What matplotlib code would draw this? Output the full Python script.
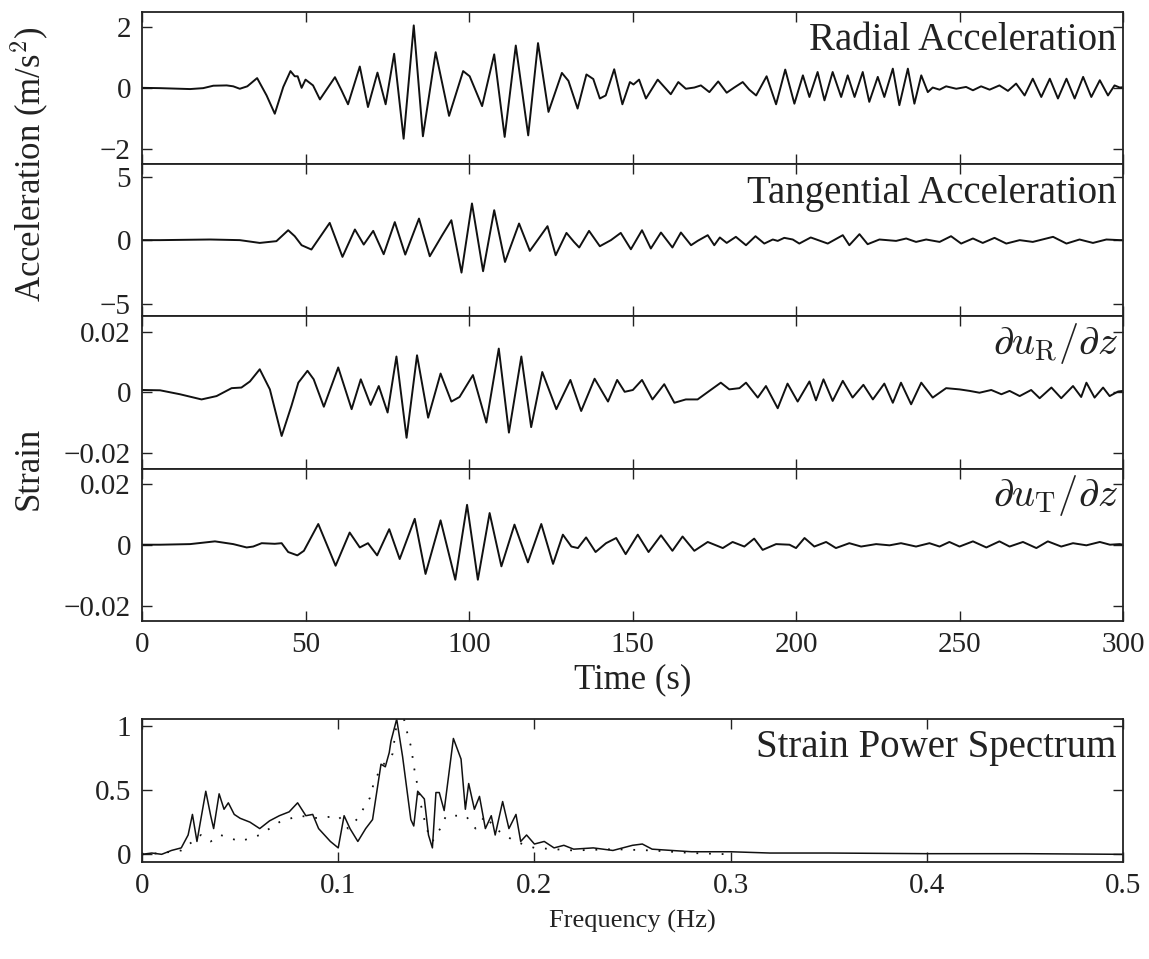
import numpy as np
import matplotlib
matplotlib.use("Agg")
import matplotlib.pyplot as plt

plt.rcParams['font.family'] = ['Liberation Serif', 'DejaVu Serif']
plt.rcParams['mathtext.fontset'] = 'cm'

# ---- data (time in s) ----
# radial acceleration (m/s^2)
t_ra = [0, 5.5, 14.7, 18.7, 21.8, 25.9, 27.9, 29.9, 32.2, 35.2, 38.1, 40.6, 43.2, 45.4, 46.7, 47.6,
        48.8, 50.0, 52.3, 54.4, 59.0, 61.0, 63.0, 66.6, 69.1, 72.0, 74.5, 77.1, 80.0, 83.1, 85.9,
        89.8, 93.9, 98.2, 100.2, 104.0, 107.7, 110.9, 114.3, 118.1, 121.1, 124.3, 128.4, 130.4,
        133.2, 135.9, 138.0, 140.0, 141.8, 144.4, 146.9, 149.2, 150.3, 152.0, 154.1, 157.7, 161.7,
        164.0, 166.3, 168.9, 170.9, 173.5, 176.2, 178.8, 181.1, 183.7, 185.7, 187.8, 191.0, 193.9,
        196.7, 199.5, 202.1, 204.1, 206.6, 208.7, 211.2, 213.8, 215.8, 217.9, 220.4, 222.4, 225.0,
        227.0, 229.6, 231.6, 234.2, 236.2, 238.3, 240.3, 241.8, 243.9, 245.9, 249.0, 252.0, 254.1,
        256.6, 259.2, 262.2, 264.8, 267.3, 269.9, 272.4, 275.0, 277.6, 280.1, 282.7, 285.2, 287.8,
        290.3, 292.9, 295.4, 297.4, 299.0, 300]
a_ra = [0.0, -0.01, -0.04, -0.01, 0.07, 0.08, 0.05, -0.03, 0.05, 0.32, -0.25, -0.85, 0.03, 0.55, 0.38, 0.38,
        0.0, 0.27, 0.08, -0.38, 0.35, -0.08, -0.54, 0.70, -0.63, 0.50, -0.54, 1.12, -1.67, 2.05, -1.59,
        1.17, -0.92, 0.55, 0.38, -0.60, 1.10, -1.61, 1.39, -1.56, 1.47, -0.79, 0.49, 0.23,
        -0.68, 0.44, 0.29, -0.35, -0.25, 0.61, -0.54, 0.19, 0.11, 0.27, -0.35, 0.27, -0.21,
        0.19, -0.03, 0.01, 0.08, -0.14, 0.21, -0.16, 0.01, 0.19, -0.06, -0.25, 0.38, -0.54,
        0.60, -0.52, 0.41, -0.30, 0.52, -0.41, 0.52, -0.30, 0.41, -0.30, 0.52, -0.46, 0.36,
        -0.30, 0.63, -0.57, 0.63, -0.52, 0.41, -0.14, 0.01, -0.06, 0.05, -0.03, 0.03, -0.08,
        0.05, -0.06, 0.08, -0.10, 0.14, -0.25, 0.30, -0.30, 0.30, -0.35, 0.30, -0.35, 0.36,
        -0.30, 0.25, -0.25, 0.08, 0.01, 0.02]

# tangential acceleration (m/s^2)
t_ta = [0, 5.5, 20.8, 29.9, 36.0, 41.1, 44.7, 46.7, 48.8, 51.8, 57.4, 61.3, 65.1, 67.8, 70.7, 73.9,
        77.3, 80.5, 84.7, 88.0, 91.8, 94.6, 97.7, 100.9, 104.3, 107.7, 111.0, 115.3, 118.6, 124.0,
        126.5, 129.8, 132.1, 133.7, 136.7, 140.0, 143.4, 146.4, 149.5, 152.9, 155.6, 158.7, 162.2,
        164.8, 167.9, 169.9, 173.0, 175.0, 176.7, 178.8, 181.6, 184.7, 187.6, 190.3, 192.9, 194.4,
        196.4, 199.0, 201.0, 204.5, 209.7, 214.3, 216.3, 219.4, 221.9, 225.5, 230.6, 233.7, 236.7,
        239.8, 243.9, 247.4, 250.5, 254.1, 257.1, 260.7, 264.3, 268.4, 272.4, 278.6, 282.7, 286.7,
        290.8, 294.9, 299.0, 300]
a_ta = [0.0, 0.0, 0.05, 0.0, -0.22, -0.08, 0.78, 0.31, -0.40, -0.74, 1.36, -1.32, 0.84, -0.35, 0.73, -1.11,
        1.42, -1.14, 1.70, -1.27, 0.39, 1.57, -2.56, 2.89, -2.45, 2.36, -1.72, 1.31, -0.85, 1.10,
        -1.19, 0.57, -0.14, -0.58, 0.73, -0.48, 0.0, 0.57, -0.72, 0.78, -0.66, 0.60, -0.58,
        0.60, -0.40, -0.06, 0.39, -0.40, 0.21, -0.22, 0.26, -0.40, 0.31, -0.27, 0.05, -0.06,
        0.18, 0.05, -0.27, 0.21, -0.27, 0.39, -0.40, 0.47, -0.32, 0.05, -0.06, 0.13, -0.14,
        0.05, -0.14, 0.31, -0.27, 0.13, -0.22, 0.18, -0.27, 0.0, -0.14, 0.26, -0.27, 0.05,
        -0.22, 0.05, 0.0, 0.0]

# radial strain du_R/dz (x 1e-3)
t_sr = [0, 5.5, 11.6, 18.2, 22.8, 27.4, 30.4, 33.0, 36.0, 39.1, 42.7, 45.7, 47.8, 50.6, 52.5, 55.6,
        60.0, 64.1, 66.9, 69.9, 72.4, 75.1, 77.8, 80.9, 84.1, 87.5, 91.3, 94.6, 97.1, 101.2, 105.3,
        109.1, 112.2, 116.0, 119.0, 122.4, 126.7, 131.0, 134.3, 138.4, 142.5, 145.3, 147.6, 150.1,
        152.9, 156.1, 159.7, 162.8, 166.3, 169.9, 173.5, 177.0, 179.6, 182.7, 184.7, 188.3, 190.8,
        194.4, 197.4, 200.5, 204.1, 206.1, 208.4, 211.2, 214.3, 217.3, 220.6, 223.5, 227.0, 229.6,
        232.1, 235.2, 238.3, 241.8, 245.9, 250.0, 253.1, 256.1, 259.7, 262.8, 265.3, 268.4, 271.9,
        274.5, 278.1, 281.1, 284.7, 287.2, 288.8, 291.3, 293.9, 295.9, 298.5, 300]
s_sr = [0.8, 0.7, -0.6, -2.3, -1.2, 1.4, 1.6, 3.6, 7.6, 1.0, -14.3, -4.4, 3.2, 7.1, 4.3, -4.7,
        8.2, -5.5, 4.3, -4.1, 2.1, -6.6, 11.8, -14.9, 12.2, -8.3, 6.2, -3.0, -1.5, 5.7, -9.9,
        14.4, -13.2, 11.8, -11.4, 6.7, -5.5, 4.1, -6.1, 4.5, -3.0, 4.1, 0.2, 0.8,
        4.1, -2.3, 2.7, -3.4, -2.3, -2.3, 0.5, 3.2, 1.0, 1.4, 3.2, -1.7, 2.1,
        -5.2, 2.9, -3.0, 3.6, -2.6, 4.3, -2.8, 3.8, -1.7, 2.5, -2.3, 2.9, -3.4,
        3.2, -3.9, 3.2, -1.7, 1.4, 1.0, 0.5, -0.1, 0.8, -0.6, 0.5, -1.2, 0.8,
        -1.9, 1.6, -1.9, 2.1, -1.5, 3.2, -1.7, 1.6, -1.2, 0.3, 0.5]

# transverse strain du_T/dz (x 1e-3)
t_st = [0, 5.5, 14.7, 22.3, 27.9, 32.0, 34.0, 36.6, 40.6, 42.7, 44.7, 47.5, 49.5, 53.9, 59.2, 63.5,
        66.6, 69.1, 71.9, 75.6, 78.8, 83.4, 86.7, 91.3, 95.8, 99.4, 102.7, 106.3, 109.9, 113.9,
        118.0, 122.1, 125.7, 128.7, 131.3, 133.3, 135.8, 138.7, 141.9, 145.0, 147.9, 151.6, 154.9,
        158.7, 162.2, 165.3, 168.9, 173.0, 177.6, 180.6, 184.2, 187.2, 189.8, 193.9, 198.0, 200.0,
        202.6, 205.6, 209.2, 212.2, 216.3, 219.9, 224.5, 228.6, 232.1, 236.7, 240.8, 243.9, 246.9,
        250.0, 254.1, 258.2, 262.2, 265.3, 269.4, 273.5, 277.0, 281.1, 284.7, 288.8, 292.9, 296.0,
        299.0, 300]
s_st = [0.0, 0.0, 0.2, 1.1, 0.2, -0.9, -0.6, 0.5, 0.3, 0.5, -2.4, -3.5, -2.0, 6.8, -6.9, 4.0,
        -0.9, 0.5, -3.5, 5.1, -4.7, 8.5, -9.6, 8.0, -11.5, 13.1, -11.5, 10.4, -7.1, 6.6,
        -5.8, 6.8, -6.3, 3.3, -0.6, -1.1, 2.4, -2.4, 0.5, 2.2, -3.1, 3.3, -2.4,
        3.1, -2.0, 2.7, -2.0, 0.9, -1.1, 0.9, -0.6, 2.0, -1.7, 0.2, 0.0, -1.1,
        2.2, -0.6, 0.9, -1.1, 0.5, -0.6, 0.2, -0.2, 0.5, -0.6, 0.5, -0.6, 0.9,
        -0.6, 1.1, -0.9, 1.1, -0.6, 0.9, -1.1, 1.1, -0.6, 0.5, -0.2, 0.9, 0.0,
        0.2, 0.0]

# strain power spectrum (normalised), frequency in Hz
f_sp = [0, 0.005, 0.01, 0.015, 0.02, 0.0235, 0.0257, 0.028, 0.0325, 0.035, 0.0365, 0.0393, 0.0418,
        0.044, 0.047, 0.05, 0.055, 0.06, 0.065, 0.070, 0.075, 0.0793, 0.0835, 0.087, 0.09, 0.093,
        0.096, 0.1, 0.103, 0.106, 0.11, 0.114, 0.1175, 0.1218, 0.124, 0.126, 0.1269, 0.1298, 0.1328,
        0.137, 0.1385, 0.1405, 0.1439, 0.146, 0.148, 0.1498, 0.1515, 0.154, 0.1587, 0.1626, 0.1648,
        0.1665, 0.1694, 0.172, 0.175, 0.178, 0.18, 0.1838, 0.187, 0.1906, 0.193, 0.196, 0.2, 0.205,
        0.21, 0.215, 0.22, 0.23, 0.24, 0.25, 0.255, 0.26, 0.27, 0.28, 0.3, 0.32, 0.35, 0.4, 0.45, 0.5]
p_sp = [0.0, 0.01, 0.0, 0.03, 0.05, 0.15, 0.31, 0.10, 0.49, 0.30, 0.20, 0.47, 0.35,
        0.40, 0.31, 0.28, 0.25, 0.20, 0.26, 0.30, 0.33, 0.40, 0.30, 0.31, 0.20, 0.15,
        0.10, 0.05, 0.30, 0.20, 0.10, 0.20, 0.27, 0.70, 0.68, 0.79, 0.88, 1.05, 0.76,
        0.27, 0.22, 0.49, 0.43, 0.15, 0.05, 0.48, 0.48, 0.34, 0.90, 0.74, 0.35,
        0.55, 0.35, 0.45, 0.20, 0.30, 0.15, 0.41, 0.20, 0.31, 0.10, 0.15, 0.08, 0.10,
        0.05, 0.07, 0.04, 0.05, 0.03, 0.07, 0.08, 0.04, 0.03, 0.02, 0.02, 0.01, 0.01, 0.005, 0.005, 0.0]

# second spectrum (dotted)
f_sp2 = [0.0, 0.01, 0.02, 0.03, 0.035, 0.04, 0.05, 0.06, 0.07, 0.08, 0.09, 0.1, 0.105, 0.11, 0.1138,
         0.1162, 0.1184, 0.1226, 0.1277, 0.131, 0.1337, 0.1354, 0.1374, 0.1383, 0.1396, 0.1422, 0.145,
         0.148, 0.152, 0.155, 0.16, 0.165, 0.17, 0.175, 0.18, 0.19, 0.2, 0.21, 0.22, 0.24, 0.26, 0.28, 0.3]
p_sp2 = [0.0, 0.01, 0.03, 0.15, 0.10, 0.15, 0.10, 0.15, 0.25, 0.30, 0.28, 0.30, 0.20, 0.28, 0.38,
         0.44, 0.57, 0.69, 0.78, 1.15, 1.04, 0.93, 0.82, 0.70, 0.60, 0.38, 0.20,
         0.10, 0.20, 0.30, 0.30, 0.30, 0.20, 0.30, 0.20, 0.10, 0.05, 0.04, 0.03, 0.04, 0.03, 0.01, 0.0]

fig = plt.figure(figsize=(11.49, 9.59), dpi=100)

L, W = 0.1236, 0.8538
H = 0.1588
tops = [0.9878 - i * H for i in range(4)]

def style(ax):
    ax.tick_params(direction='in', length=7, width=1.0, top=True, right=True,
                   labelsize=21, pad=8, color='#222222', labelcolor='#222222')
    for s in ax.spines.values():
        s.set_linewidth(1.3)
        s.set_color('#222222')

series = [(t_ra, a_ra, 2.5, [-2, 0, 2], ['\u22122', '0', '2'], 'Radial Acceleration', 1.0),
          (t_ta, a_ta, 6.0, [-5, 0, 5], ['\u22125', '0', '5'], 'Tangential Acceleration', 1.0),
          (t_sr, s_sr, 0.025, [-0.02, 0, 0.02], ['\u22120.02', '0', '0.02'], r'$\partial u_{\mathrm{R}}/\partial z$', 1e-3),
          (t_st, s_st, 0.025, [-0.02, 0, 0.02], ['\u22120.02', '0', '0.02'], r'$\partial u_{\mathrm{T}}/\partial z$', 1e-3)]

axes = []
for i, (t, v, lim, yt, ytl, title, scale) in enumerate(series):
    ax = fig.add_axes([L, tops[i] - H, W, H])
    ax.plot(t, np.array(v) * scale, color='#111111', lw=1.4)
    ax.set_xlim(0, 300)
    ax.set_ylim(-lim, lim)
    ax.set_yticks(yt)
    ax.set_yticklabels(ytl)
    ax.set_xticks(np.arange(0, 301, 50))
    style(ax)
    if i < 3:
        ax.set_xticklabels([])
    if i < 2:
        ax.text(0.993, 0.93, title, transform=ax.transAxes, ha='right', va='top',
                fontsize=28, color='#222222')
    else:
        ax.text(0.995, 0.97, title, transform=ax.transAxes, ha='right', va='top',
                fontsize=29, color='#222222')
    axes.append(ax)

axes[3].set_xlabel('Time (s)', fontsize=25, color='#222222', labelpad=4)

fig.text(0.025, tops[1], 'Acceleration (m/s$^2$)', rotation=90, ha='center', va='center',
         fontsize=25, color='#222222')
fig.text(0.025, tops[3], 'Strain', rotation=90, ha='center', va='center',
         fontsize=25, color='#222222')

# spectrum panel
axs = fig.add_axes([L, 0.1011, W, 0.149])
axs.plot(f_sp, p_sp, color='#111111', lw=1.1)
axs.plot(f_sp2, p_sp2, color='#111111', lw=1.3, linestyle=(0, (1, 6)))
axs.set_xlim(0, 0.5)
axs.set_ylim(-0.06, 1.05)
axs.set_yticks([0, 0.5, 1])
axs.set_yticklabels(['0', '0.5', '1'])
axs.set_xticks([0, 0.1, 0.2, 0.3, 0.4, 0.5])
axs.set_xticklabels(['0', '0.1', '0.2', '0.3', '0.4', '0.5'])
style(axs)
axs.text(0.993, 0.93, 'Strain Power Spectrum', transform=axs.transAxes, ha='right', va='top',
         fontsize=28, color='#222222')
axs.set_xlabel('Frequency (Hz)', fontsize=19, color='#222222', labelpad=8)

fig.savefig('out.png', dpi=100)
